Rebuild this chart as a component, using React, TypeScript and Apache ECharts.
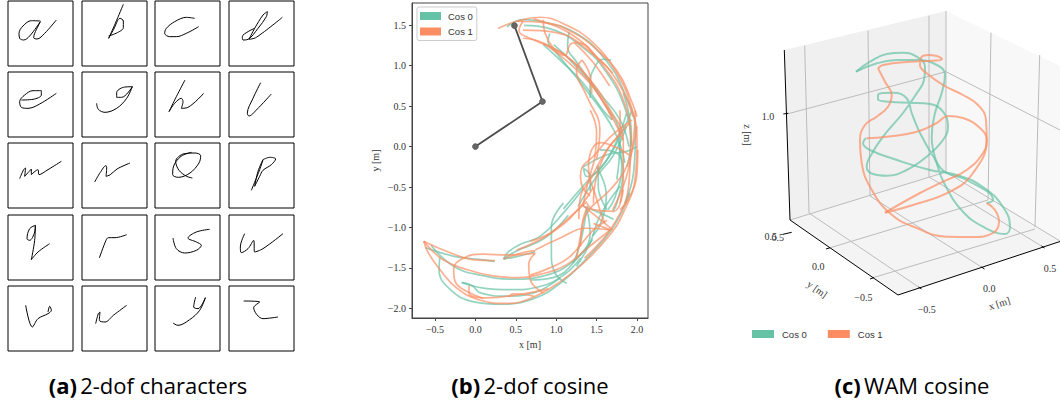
import React, { useEffect, useRef } from "react";
import * as echarts from "echarts";

const GREEN = "#66c2a5";
const ORANGE = "#fc8d62";
const legendNames = ["Cos 0", "Cos 1"];

// Panel (a): handwriting strokes, x/y in a 0-195 box, y downwards
const charA = [[97,60],[70,59],[45,75],[33,97],[35,112],[47,117],[65,105],[97,62],[80,97],[77,110],[87,114],[110,97],[145,57]];
const charB = [[124,10],[100,67],[80,112],[95,85],[114,52],[124,60],[124,80],[106,95],[80,105]];
const charC = [[119,52],[94,49],[59,62],[34,82],[29,97],[44,107],[64,107],[94,97],[131,77]];
const charD = [[77,82],[57,92],[40,107],[42,117],[57,115],[87,82],[112,47],[115,32],[102,42],[77,82],[60,115],[82,109],[160,49]];
const charE = [[40,84],[75,82],[100,69],[100,56],[75,56],[50,69],[35,89],[40,106],[60,109],[95,96],[145,64]];
const charG = [[151,44],[124,46],[104,62],[104,76],[119,76],[151,44],[134,79],[104,109],[69,121],[49,112],[44,94]];
const charH = [[90,24],[64,74],[42,119],[59,94],[79,79],[84,89],[79,109],[99,106],[146,64]];
const charL = [[95,32],[72,79],[55,124],[60,132],[82,114],[127,66]];
const charM = [[35,107],[47,80],[53,75],[50,100],[70,78],[70,95],[90,80],[93,95],[120,80],[160,55]];
const charN = [[38,117],[55,88],[72,68],[74,75],[72,100],[85,95],[105,78],[144,60]];
const charO = [[110,28],[78,40],[55,72],[53,95],[70,103],[105,90],[132,60],[137,38],[120,30],[88,32],[62,55],[72,82],[95,100],[112,105]];
const charP = [[67,142],[92,80],[102,50],[87,85],[77,130],[92,100],[102,82],[127,65],[140,48],[122,43],[102,50]];
const charQ = [[82,31],[65,41],[57,71],[65,76],[80,51],[82,31],[80,76],[70,134],[90,111],[125,86]];
const charR = [[52,129],[72,76],[79,68],[99,68],[134,59]];
const charS = [[164,43],[124,51],[99,69],[124,81],[139,91],[124,106],[89,114],[64,101],[54,69]];
const charU = [[47,56],[34,96],[37,113],[57,101],[74,76],[77,111],[102,101],[162,56]];
const charV = [[53,58],[73,123],[90,98],[120,83],[130,73],[125,61],[120,78]];
const charW = [[41,113],[49,83],[54,78],[52,103],[69,108],[94,88],[134,58]];
const charY = [[122,33],[116,63],[129,68],[151,35],[134,73],[104,101],[69,118],[54,111]];
const charZ = [[44,45],[92,48],[74,65],[102,98],[147,93]];
const characters = [charA,charB,charC,charD,charE,charG,charH,charL,charM,charN,charO,charP,charQ,charR,charS,charU,charV,charW,charY,charZ];

// Panel (b): end-effector traces in metres
const armLinks = [[0,0],[0.83,0.557],[0.483,1.496]];
const xTicks2d = [-0.5,0,0.5,1,1.5,2];
const yTicks2d = [-2,-1.5,-1,-0.5,0,0.5,1,1.5];

const cos0Traces = [
  [[0.39,1.48],[0.59,1.57],[0.88,1.53],[1.25,1.40],[1.58,1.11],[1.83,0.70],[1.98,0.16],[1.96,-0.3],[1.85,-0.7]],
  [[0.97,1.26],[1.21,1.03],[1.54,0.62],[1.79,0.08],[1.75,-0.41]],
  [[0.92,1.40],[0.90,1.30],[1.01,1.15],[1.34,0.74],[1.71,0.21],[1.85,-0.2]],
  [[0.60,1.50],[0.95,1.45],[1.30,1.25],[1.60,0.95],[1.86,0.45],[1.93,0.0]],
  [[1.16,1.42],[1.14,1.25],[1.25,1.05],[1.54,0.66],[1.79,0.33],[1.90,0.0]],
  [[0.84,1.26],[1.09,1.03],[1.33,0.79],[1.58,0.45],[1.69,0.33]],
  [[1.68,1.07],[1.58,1.08],[1.47,0.97],[1.42,0.78],[1.42,0.60]],
  [[1.83,0.66],[1.93,0.16],[1.88,-0.25]],
  [[-0.62,-1.25],[-0.25,-1.36],[0.10,-1.40],[0.24,-1.42]],
  [[0.35,-1.39],[0.41,-1.30],[0.55,-1.21],[0.80,-1.11],[1.09,-0.82],[1.34,-0.51]],
  [[0.35,-1.39],[0.49,-1.30],[0.86,-1.13],[1.15,-0.85]],
  [[0.35,-1.39],[0.51,-1.36],[0.74,-1.30]],
  [[-0.44,-1.36],[-0.45,-1.52],[-0.31,-1.77],[-0.02,-1.92],[0.31,-1.95],[0.72,-1.88],[1.05,-1.69],[1.38,-1.38],[1.71,-0.99],[1.91,-0.57]],
  [[-0.55,-1.22],[-0.27,-1.48],[0.06,-1.59],[0.47,-1.64],[0.88,-1.59],[1.21,-1.42],[1.45,-1.15]],
  [[-0.17,-1.68],[0.10,-1.75],[0.43,-1.77],[0.80,-1.73],[1.09,-1.59],[1.30,-1.38]],
  [[-0.17,-1.68],[-0.04,-1.72],[0.06,-1.81],[0.39,-1.85],[0.72,-1.81],[1.05,-1.62]],
  [[0.68,-1.65],[0.96,-1.62],[1.21,-1.44],[1.42,-1.07],[1.38,-0.78]],
  [[1.09,-0.70],[0.94,-0.99],[0.94,-1.32],[0.99,-1.57],[1.13,-1.69]],
  [[1.38,-0.74],[1.30,-1.19],[1.21,-1.44]],
  [[1.71,-0.90],[1.54,-0.82],[1.34,-0.74]],
  [[1.79,-0.49],[1.54,-0.86],[1.42,-1.19],[1.25,-1.48]],
  [[1.54,-0.04],[1.75,-0.08],[1.83,-0.29],[1.75,-0.70],[1.70,-0.80]],
  [[1.87,0.41],[1.63,-0.16],[1.38,-0.37],[1.34,-0.27],[1.42,-0.37],[1.42,-0.55]],
  [[1.50,-0.25],[1.62,-0.60],[1.55,-0.95],[1.45,-1.10]],
  [[1.32,-0.26],[1.63,-0.10],[1.87,-0.06],[2.0,0.0]],
  [[1.09,-0.77],[1.33,-0.49],[1.63,-0.16],[1.83,0.21],[1.94,0.45]],
  [[1.27,-0.74],[1.50,-0.37],[1.70,-0.12],[1.87,0.25]],
  [[1.52,-0.23],[1.52,-0.49],[1.63,-0.78]],
  [[1.77,0.05],[1.81,-0.25],[1.73,-0.62],[1.64,-0.78]],
];

const cos1Traces = [
  [[0.28,1.46],[0.51,1.55],[0.80,1.60],[1.13,1.50],[1.46,1.28],[1.75,0.91],[1.93,0.49],[2.0,0.08],[1.98,-0.37],[1.83,-0.82],[1.65,-1.11],[1.38,-1.40],[1.05,-1.67],[0.72,-1.86],[0.39,-1.94],[0.06,-1.90],[-0.23,-1.75],[-0.44,-1.52],[-0.58,-1.32],[-0.64,-1.17]],
  [[-0.64,-1.17],[-0.32,-1.31],[-0.02,-1.40],[0.24,-1.41]],
  [[0.74,-1.32],[0.39,-1.34],[0.10,-1.33],[-0.15,-1.38],[-0.27,-1.52],[-0.25,-1.67],[-0.11,-1.79],[0.10,-1.88]],
  [[-0.64,-1.17],[-0.40,-1.40],[-0.11,-1.52],[0.22,-1.60],[0.51,-1.62],[0.84,-1.57],[1.13,-1.46],[1.38,-1.26],[1.67,-1.03]],
  [[0.51,-1.28],[0.76,-1.17],[1.05,-0.99],[1.30,-0.74],[1.46,-0.50]],
  [[0.74,-1.28],[1.05,-1.13],[1.38,-1.01],[1.67,-1.03]],
  [[0.34,-1.39],[0.64,-1.30],[0.74,-1.29]],
  [[0.68,-1.17],[0.92,-1.07],[1.17,-0.87],[1.38,-0.68]],
  [[0.68,-1.59],[0.92,-1.50],[1.17,-1.36],[1.46,-1.03],[1.63,-0.91]],
  [[-0.08,-1.72],[-0.08,-1.81],[0.13,-1.87],[0.54,-1.83],[0.90,-1.76]],
  [[1.94,0.33],[1.67,0.12],[1.46,-0.12],[1.32,-0.26],[1.30,-0.37],[1.33,-0.51],[1.42,-0.61]],
  [[0.41,-1.86],[0.47,-1.82],[0.72,-1.85]],
  [[0.74,-1.32],[0.66,-1.46],[0.68,-1.65],[0.84,-1.81]],
  [[0.59,1.55],[0.54,1.44],[0.72,1.32],[1.05,1.17],[1.38,0.87],[1.67,0.45],[1.83,0.08],[1.83,-0.37],[1.79,-0.70]],
  [[0.84,1.57],[0.86,1.41],[1.11,1.13],[1.17,1.26],[1.25,1.29],[1.54,1.07],[1.70,0.91]],
  [[1.23,1.28],[1.45,1.05],[1.66,0.75]],
  [[1.32,1.07],[1.25,0.95],[1.38,0.62],[1.54,0.21],[1.50,-0.16]],
  [[1.32,1.07],[1.42,0.87],[1.44,0.66]],
  [[0.84,1.28],[1.21,0.99],[1.54,0.62],[1.83,0.08]],
  [[1.91,0.29],[1.63,-0.04],[1.42,-0.41],[1.30,-0.62],[1.28,-0.90]],
  [[2.0,0.25],[1.87,-0.25],[1.67,-0.53],[1.38,-0.82],[1.30,-1.11],[1.25,-1.40]],
  [[1.46,-0.95],[1.67,-1.03]],
  [[1.83,-0.53],[1.71,-0.80],[1.46,-0.78],[1.38,-0.70]],
  [[1.90,-0.10],[1.55,0.05],[1.40,-0.25],[1.50,-0.65],[1.60,-0.95]],
  [[0.72,1.58],[1.2,1.38],[1.58,1.0],[1.84,0.55],[1.92,0.05],[1.90,-0.45],[1.72,-0.95],[1.35,-1.38]],
  [[0.51,1.55],[0.88,1.53],[1.21,1.41],[1.50,1.20],[1.77,0.91],[1.91,0.62],[2.0,0.37]],
  [[0.59,1.34],[0.84,1.28],[1.25,1.01],[1.54,0.62],[1.70,0.33]],
  [[0.59,1.44],[1.0,1.41],[1.42,1.17],[1.75,0.82],[1.95,0.37]],
  [[1.42,0.45],[1.50,0.17],[1.48,-0.12],[1.39,-0.45],[1.33,-0.74]],
  [[1.79,0.45],[1.79,0.21],[1.63,-0.04],[1.50,-0.37],[1.46,-0.70]],
  [[2.01,-0.04],[2.0,-0.33],[1.89,-0.66],[1.79,-0.78]],
  [[1.98,0.45],[1.95,0.05],[1.87,-0.37],[1.70,-0.78]],
  [[1.32,-0.72],[1.70,-1.03]],
  [[1.30,-1.24],[1.33,-0.91],[1.39,-0.74]],
];

// Panel (c): projected plot, in panel pixels
const paneQuads = [
  [784.3,50, 946,11, 946,172, 790,220],
  [946,11, 1060,66, 1060,241, 946,172],
  [790,220, 946,172, 1060,241, 898,295],
];
const paneColors = ["#f0f0f0", "#f8f8f8", "#f4f4f4"];
const gridSegments3d = [
  [[804.7,45.7],[809,213]], [[868,30.7],[870,196]], [[929,15.7],[929,177]], [[946,11],[946,172]],
  [[991,32.7],[988,200]], [[1039.7,55],[1035,227]],
  [[787,114],[946,71.7],[1060,130]],
  [[809,213],[920,288]], [[870,196],[983,268]], [[929,177],[1043,247]],
  [[828.3,248.3],[988,200]], [[872,278],[1035,229]],
  [[790,220],[946,172],[1060,241]],
];
const axisSegments3d = [
  [[784.3,50],[790,220]], [[790,220],[898,295]], [[898,295],[1060,241.5]],
  [[783.3,114],[788.3,113.3]], [[783,234.3],[791.7,232.3]],
  [[826,249],[830,247.7]], [[870,279],[874,277.5]],
  [[918.5,287],[921.5,289]], [[981.5,267],[984.5,269]], [[1041.5,246],[1044.5,248]],
];
const cos0Curves3d = [
  [[856,71.7],[870,61.7],[886.7,54],[903,52.7],[916.7,56.7],[925,66.7],[924,80],[916.7,93.3],[903,113],[883,136.7],[870,156.7],[866.7,166.7],[873,174],[886.7,175.7],[906.7,170],[926.7,156.7],[943,140],[948,126.7],[943,111.7],[930,104],[910,102.7],[890,101.7],[878,99.3],[878,95],[893,92.7],[906.7,98.3],[911.7,113],[920,133],[933,156],[945,172],[966.7,180],[993,200],[986.7,203]],
  [[856,71.7],[877,63.3],[897,60],[917,60],[937,65],[945,75],[941.7,93],[935,113],[931.7,136.7],[936.7,163],[946.7,188],[963,211.7],[983,226.7],[1005,234],[1010,227],[1003,207],[983,187],[957,175],[930,170],[897,160],[870,150],[863,143],[866,138]],
];
const cos1Curves3d = [
  [[878,68.3],[883,65],[910,61.7],[933,60.7],[942,59.3],[936.7,56],[928,55],[920.7,58.3],[920,65],[926.7,73.3],[943,85],[963,95],[978,105],[986,120],[986.7,140],[983,153],[966.7,170],[943,181.7],[920,193],[885,212.7]],
  [[885,212.7],[913,205],[950,191.7],[973,173],[986.7,140],[980,128],[963,118],[948,116],[936.7,123],[917,131.7],[887,136.7],[866.7,138.3]],
  [[878,68.3],[885,81.7],[891.7,95],[888,106.7],[876.7,116.7],[865,125],[860,140],[861.7,163],[870,186.7],[890,213.3],[916.7,228],[946.7,236.7],[973,237],[993,233],[999,221.7],[995,210],[986.7,203]],
];

// Tick labels of the 3D axes: text, x, y, rotation in degrees
const labels3d: [string, number, number, number][] = [
  ["1.0",768,116.7,0], ["z [m]",747.7,135,-90], ["0.5",770.7,236.7,0], ["0.5",777.7,237.3,0],
  ["0.0",818.3,266.7,0], ["−0.5",863.3,297.3,0], ["y [m]",817.3,289.3,-35],
  ["−0.5",926.7,309.3,0], ["0.0",989.3,288.7,0], ["0.5",1050,268,0], ["x [m]",999.3,303.3,18],
];

const captions: [string, string, number][] = [
  ["(a)", "2-dof characters", 148],
  ["(b)", "2-dof cosine", 530],
  ["(c)", "WAM cosine", 912],
];

const cellLefts = [8, 82, 155, 229];
const cellTops = [1, 72, 143, 215, 286];
const SERIF = "'Liberation Serif', serif";
const SANS = "'Liberation Sans', sans-serif";
const tickText = (v: number) => v.toFixed(1).replace("-", "−");

function buildOption() {
  const grid: any[] = [], xAxis: any[] = [], yAxis: any[] = [], series: any[] = [];
  characters.forEach((pts, i) => {
    grid.push({ show: true, left: cellLefts[i % 4], top: cellTops[Math.floor(i / 4)], width: 65, height: 65, borderColor: "#000", borderWidth: 1, backgroundColor: "#fff" });
    xAxis.push({ gridIndex: i, type: "value", min: 0, max: 195, show: false });
    yAxis.push({ gridIndex: i, type: "value", min: 0, max: 195, inverse: true, show: false });
    series.push({ type: "line", xAxisIndex: i, yAxisIndex: i, data: pts, smooth: 0.35, showSymbol: false, silent: true, lineStyle: { color: "#000", width: 1 } });
  });
  const b = characters.length;
  grid.push({ show: true, left: 412, top: 3, width: 236, height: 315, borderColor: "#444", borderWidth: 1, backgroundColor: "#fff" });
  const axisCommon = { axisLine: { show: true, onZero: false, lineStyle: { color: "#444" } }, splitLine: { show: false }, nameLocation: "middle", nameTextStyle: { color: "#333", fontFamily: SERIF, fontSize: 10 } };
  xAxis.push({ ...axisCommon, gridIndex: b, type: "value", min: -0.785, max: 2.136, name: "x [m]", nameGap: 21,
    axisTick: { length: 3, customValues: xTicks2d, lineStyle: { color: "#444" } },
    axisLabel: { customValues: xTicks2d, formatter: tickText, color: "#333", fontFamily: SERIF, fontSize: 10, margin: 6 } });
  yAxis.push({ ...axisCommon, gridIndex: b, type: "value", min: -2.12, max: 1.776, name: "y [m]", nameGap: 32,
    axisTick: { length: 3, customValues: yTicks2d, lineStyle: { color: "#444" } },
    axisLabel: { customValues: yTicks2d, formatter: tickText, color: "#333", fontFamily: SERIF, fontSize: 10, margin: 6 } });
  const trace = (name: string, color: string, data: number[][], xi: number, width: number) => ({
    type: "line", name, xAxisIndex: xi, yAxisIndex: xi, data, smooth: 0.45, showSymbol: false, silent: true,
    itemStyle: { color }, lineStyle: { color, width, opacity: 0.7 },
  });
  cos0Traces.forEach((d) => series.push(trace(legendNames[0], GREEN, d, b, 1.7)));
  cos1Traces.forEach((d) => series.push(trace(legendNames[1], ORANGE, d, b, 1.7)));
  series.push({ type: "line", xAxisIndex: b, yAxisIndex: b, data: armLinks, symbol: "circle", symbolSize: 6, silent: true, z: 5,
    itemStyle: { color: "#666", borderColor: "#444", borderWidth: 0.5 }, lineStyle: { color: "#4d4d4d", width: 1.8 } });

  const c = b + 1;
  grid.push({ left: 730, top: 0, width: 330, height: 405 });
  xAxis.push({ gridIndex: c, type: "value", min: 730, max: 1060, show: false });
  yAxis.push({ gridIndex: c, type: "value", min: 0, max: 405, inverse: true, show: false });
  series.push({
    type: "custom", xAxisIndex: c, yAxisIndex: c, silent: true, z: 1, clip: true,
    data: paneQuads,
    encode: { x: [0, 2, 4, 6], y: [1, 3, 5, 7] },
    renderItem: (params: any, api: any) => ({
      type: "polygon",
      shape: { points: [0, 1, 2, 3].map((k) => api.coord([api.value(k * 2), api.value(k * 2 + 1)])) },
      style: { fill: paneColors[params.dataIndex] },
    }),
  });
  gridSegments3d.forEach((d) => series.push({ type: "line", xAxisIndex: c, yAxisIndex: c, data: d, showSymbol: false, silent: true, z: 2, lineStyle: { color: "#bcbcbc", width: 1 } }));
  axisSegments3d.forEach((d) => series.push({ type: "line", xAxisIndex: c, yAxisIndex: c, data: d, showSymbol: false, silent: true, z: 3, clip: false, lineStyle: { color: "#000", width: 1 } }));
  cos0Curves3d.forEach((d) => series.push({ ...trace(legendNames[0], GREEN, d, c, 2), z: 4 }));
  cos1Curves3d.forEach((d) => series.push({ ...trace(legendNames[1], ORANGE, d, c, 2), z: 4 }));

  const legendData = legendNames.map((name, i) => ({ name, itemStyle: { color: i ? ORANGE : GREEN, opacity: 1 } }));
  const legend = [
    { data: legendData, orient: "vertical", left: 417, top: 7, icon: "rect", itemWidth: 21, itemHeight: 8, itemGap: 5.5, padding: [4, 4, 4, 3],
      backgroundColor: "#fff", borderColor: "#ccc", borderWidth: 1, borderRadius: 2, selectedMode: false, z: 10,
      textStyle: { color: "#333", fontFamily: SANS, fontSize: 9.5, padding: [0, 0, 0, 2] } },
    { data: legendData, orient: "horizontal", left: 752, top: 329, icon: "rect", itemWidth: 22, itemHeight: 8, itemGap: 21, padding: 0, selectedMode: false,
      textStyle: { color: "#333", fontFamily: SANS, fontSize: 9.5, padding: [0, 0, 0, 3] } },
  ];

  const graphic: any[] = labels3d.map(([text, x, y, deg]) => ({
    type: "text", x, y, rotation: (deg * Math.PI) / 180, z: 20,
    style: { text, fill: "#333", font: `10px ${SERIF}`, align: "center", verticalAlign: "middle" },
  }));
  captions.forEach(([tag, rest, x]) => graphic.push({
    type: "text", x, y: 385, z: 20,
    style: {
      text: `{b|${tag}} {n|${rest}}`, align: "center", verticalAlign: "middle",
      rich: {
        b: { fontFamily: "'Open Sans', sans-serif", fontWeight: 700, fontSize: 22, fill: "#000" },
        n: { fontFamily: "'Open Sans', sans-serif", fontSize: 22, fill: "#000" },
      },
    },
  }));

  return { animation: false, backgroundColor: "#fff", grid, xAxis, yAxis, series, legend, graphic };
}

export default function App() {
  const ref = useRef<HTMLDivElement>(null);
  useEffect(() => {
    document.body.style.margin = "0";
    const chart = echarts.init(ref.current!, undefined, { renderer: "svg" });
    chart.setOption(buildOption() as any);
    return () => chart.dispose();
  }, []);
  return <div ref={ref} style={{ width: 1060, height: 405 }} />;
}
